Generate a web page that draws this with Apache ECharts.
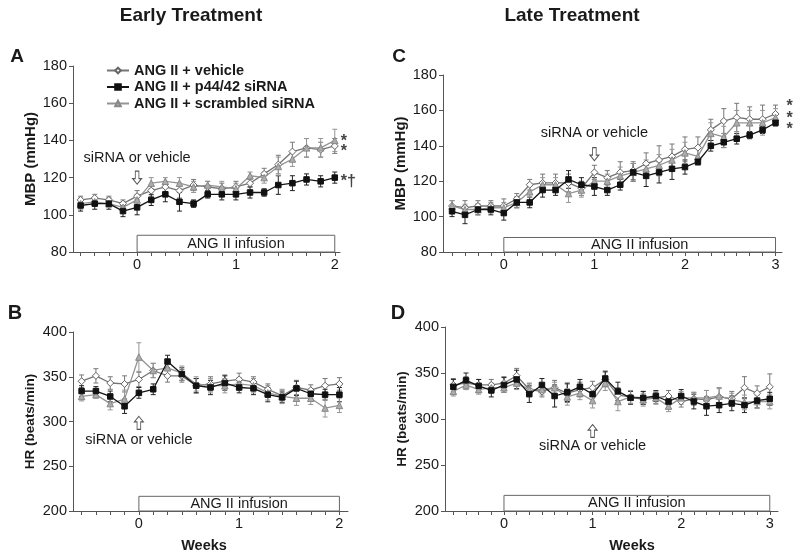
<!DOCTYPE html>
<html><head><meta charset="utf-8">
<script src="https://cdn.jsdelivr.net/npm/echarts@6/dist/echarts.min.js"></script>
<style>html,body{margin:0;padding:0;background:#fff}#c{width:800px;height:554px}</style>
</head><body><div id="c"></div>
<script>
// ---------- DATA ----------
const seriesNames = ['ANG II + vehicle', 'ANG II + p44/42 siRNA', 'ANG II + scrambled siRNA'];
const daysEarly = [-4,-3,-2,-1,0,1,2,3,4,5,6,7,8,9,10,11,12,13,14];
const daysLate  = [-4,-3,-2,-1,0,1,2,3,4,5,6,7,8,9,10,11,12,13,14,15,16,17,18,19,20,21];
const weekLabelsEarly = [0,1,2];
const weekLabelsLate  = [0,1,2,3];

// Panel A: MBP, early treatment
const mbpEarlyVehicle   = [108,109,108,106,110,113,115,113,116,115,114,115,117,122,127,134,136,135,137];
const mbpEarlyVehicleE  = [2,2,2,2,3,3,3,4,3,3,3,3,2,3,5,5,5,4,4];
const mbpEarlySirna     = [105,106,106,102,104,108,111,107,106,111,111,111,112,112,116,117,119,118,120];
const mbpEarlySirnaE    = [3,3,3,3,4,3,4,5,2,2,3,3,3,2,5,4,3,3,3];
const mbpEarlyScrambled = [106,107,106,104,108,117,118,117,115,116,115,114,121,120,126,130,136,136,140];
const mbpEarlyScrambledE= [3,2,2,3,3,3,2,3,3,2,3,3,2,3,5,4,5,5,6];

// Panel B: HR, early treatment
const hrEarlyVehicle    = [345,351,343,342,347,357,351,351,340,342,345,347,344,336,329,338,335,340,342];
const hrEarlyVehicleE   = [7,8,7,9,8,8,7,7,8,8,7,7,6,6,6,8,6,8,7];
const hrEarlySirna      = [334,334,328,317,332,336,367,353,340,338,343,338,337,330,327,337,331,330,330];
const hrEarlySirnaE     = [6,5,6,8,6,6,7,7,8,8,8,6,7,8,6,8,5,6,8];
const hrEarlyScrambled  = [328,330,320,325,372,357,360,354,342,340,340,342,340,332,328,326,326,315,318];
const hrEarlyScrambledE = [5,4,7,10,16,8,8,8,8,8,8,7,8,8,8,8,7,10,8];

// Panel C: MBP, late treatment
const mbpLateVehicle    = [106,105,106,106,106,110,118,119,119,119,116,125,122,125,126,130,132,134,138,139,149,154,156,155,155,158];
const mbpLateVehicleE   = [3,4,3,3,4,3,3,5,5,5,4,4,4,6,5,6,8,7,7,6,6,7,8,7,8,5];
const mbpLateSirna      = [103,101,104,104,102,108,108,115,115,121,118,117,115,118,125,123,125,127,128,131,140,142,144,146,149,153];
const mbpLateSirnaE     = [3,5,3,3,4,3,3,4,3,5,4,5,3,3,5,6,6,6,4,2,3,3,3,2,2,2];
const mbpLateScrambled  = [106,104,104,105,105,108,114,118,118,113,115,120,120,123,125,127,129,132,136,134,147,145,153,153,153,156];
const mbpLateScrambledE = [3,3,3,3,3,3,3,4,4,5,4,4,4,5,5,5,6,6,6,5,6,6,7,7,7,5];

// Panel D: HR, late treatment
const hrLateVehicle     = [337,339,337,337,339,347,332,330,334,328,332,334,343,326,324,323,323,325,319,322,321,324,322,334,328,335];
const hrLateVehicleE    = [7,7,6,6,7,8,7,6,8,10,8,7,8,8,7,7,6,6,6,7,10,10,8,12,8,14];
const hrLateSirna       = [335,342,336,331,337,343,327,337,325,329,335,327,344,330,323,323,325,319,325,319,314,315,317,315,320,322];
const hrLateSirnaE      = [8,8,7,7,8,10,9,7,12,10,8,8,8,10,7,7,6,7,7,8,10,8,8,8,8,7];
const hrLateScrambled   = [330,337,332,334,334,339,332,332,334,324,328,320,339,319,324,321,323,314,323,323,323,325,321,318,319,319];
const hrLateScrambledE  = [5,5,5,5,5,7,6,6,6,9,7,8,8,10,7,7,7,6,7,6,8,8,7,8,7,8];

// Annotations (data coords)
const infusionEarly = [0, 14];
const infusionLate  = [0, 21];
const siRNADayEarly = 0;
const siRNADayLate  = 7;

// ---------- STYLE ----------
const FONT = '"Liberation Sans", Arial, Helvetica, sans-serif';
const TXT = '#1a1a1a';
const AX = '#555';
const styles = [
  {sym:'diamond', size:7, line:'#747474', fill:'#fff', border:'#666', err:'#777'},
  {sym:'rect', size:5.5, line:'#151515', fill:'#111', border:'#111', err:'#222'},
  {sym:'triangle', size:6.5, line:'#949494', fill:'#acacac', border:'#888', err:'#969696'}
];

const panels = [
  {grid:{left:73,top:66,width:267,height:186}, xr:[-4.54,14.37], yr:[80,180,20], days:daysEarly, weeks:weekLabelsEarly,
   vals:[mbpEarlyVehicle,mbpEarlySirna,mbpEarlyScrambled], errs:[mbpEarlyVehicleE,mbpEarlySirnaE,mbpEarlyScrambledE],
   yname:'MBP (mmHg)', ynameSize:15, ynameGap:35, inf:infusionEarly, infTop:89, arrowDay:siRNADayEarly, arrowY:120, arrowDown:true, textY:130.4,
   ends:[{t:'*',dy:6},{t:'*\u2020',dy:4},{t:'*',dy:1}], endDist:6},
  {grid:{left:73,top:332,width:275,height:179}, xr:[-4.6,14.6], yr:[200,400,50], days:daysEarly, weeks:weekLabelsEarly,
   vals:[hrEarlyVehicle,hrEarlySirna,hrEarlyScrambled], errs:[hrEarlyVehicleE,hrEarlySirnaE,hrEarlyScrambledE],
   yname:'HR (beats/min)', ynameSize:13.5, ynameGap:36, inf:infusionEarly, infTop:216.4, arrowDay:siRNADayEarly, arrowY:298.5, arrowDown:false, textY:279},
  {grid:{left:443,top:75,width:339,height:177}, xr:[-4.7,21.5], yr:[80,180,20], days:daysLate, weeks:weekLabelsLate,
   vals:[mbpLateVehicle,mbpLateSirna,mbpLateScrambled], errs:[mbpLateVehicleE,mbpLateSirnaE,mbpLateScrambledE],
   yname:'MBP (mmHg)', ynameSize:15, ynameGap:35, inf:infusionLate, infTop:88.2, arrowDay:siRNADayLate, arrowY:135.3, arrowDown:true, textY:147,
   ends:[{t:'*',dy:-7},{t:'*',dy:7},{t:'*',dy:1}], endDist:11},
  {grid:{left:445,top:327,width:333,height:184}, xr:[-4.66,21.65], yr:[200,400,50], days:daysLate, weeks:weekLabelsLate,
   vals:[hrLateVehicle,hrLateSirna,hrLateScrambled], errs:[hrLateVehicleE,hrLateSirnaE,hrLateScrambledE],
   yname:'HR (beats/min)', ynameSize:13.5, ynameGap:36, inf:infusionLate, infTop:217, arrowDay:siRNADayLate, arrowY:287, arrowDown:false, textY:270.5}
];

const ARROW_DOWN = 'path://M3,0 L7,0 L7,8 L10,8 L5,14 L0,8 L3,8 Z';
const ARROW_UP   = 'path://M5,0 L10,6 L7,6 L7,14 L3,14 L3,6 L0,6 Z';

const grids=[], xAxes=[], yAxes=[], series=[];
panels.forEach((p,i)=>{
  grids.push(Object.assign({containLabel:false}, p.grid));
  const tickDays=[]; for(let d=Math.ceil(p.xr[0]); d<=Math.floor(p.xr[1]); d++) tickDays.push(d);
  xAxes.push({type:'value', gridIndex:i, min:p.xr[0], max:p.xr[1],
    axisLine:{show:true, onZero:false, lineStyle:{color:AX, width:1}},
    axisTick:{show:true, length:4, customValues:tickDays, lineStyle:{color:AX}},
    axisLabel:{customValues:p.weeks.map(w=>w*7), formatter:v=>String(Math.round(v/7)), fontSize:14.5, fontFamily:FONT, color:TXT, margin:5},
    splitLine:{show:false}});
  yAxes.push({type:'value', gridIndex:i, min:p.yr[0], max:p.yr[1], interval:p.yr[2],
    axisLine:{show:true, onZero:false, lineStyle:{color:AX, width:1}},
    axisTick:{show:true, length:4, lineStyle:{color:AX}},
    axisLabel:{fontSize:14.5, fontFamily:FONT, color:TXT, margin:6},
    splitLine:{show:false},
    name:p.yname, nameLocation:'middle', nameGap:p.ynameGap,
    nameTextStyle:{fontSize:p.ynameSize, fontWeight:'bold', fontFamily:FONT, color:TXT}});

  // error bars
  p.vals.forEach((vals,k)=>{
    const st=styles[k];
    series.push({type:'custom', xAxisIndex:i, yAxisIndex:i, silent:true, z:1,
      data:p.days.map((d,j)=>[d, vals[j], p.errs[k][j]]),
      encode:{x:0,y:1},
      renderItem:(params, api)=>{
        const x=api.value(0), m=api.value(1), e=api.value(2);
        const t=api.coord([x,m+e]), b=api.coord([x,m-e]);
        const w=2.5, s={stroke:st.err, lineWidth:1};
        return {type:'group', children:[
          {type:'line', shape:{x1:t[0],y1:t[1],x2:b[0],y2:b[1]}, style:s},
          {type:'line', shape:{x1:t[0]-w,y1:t[1],x2:t[0]+w,y2:t[1]}, style:s},
          {type:'line', shape:{x1:b[0]-w,y1:b[1],x2:b[0]+w,y2:b[1]}, style:s}
        ]};
      }});
  });

  // lines
  [1,0,2].forEach(k=>{
    const st=styles[k];
    const s={type:'line', name:seriesNames[k], xAxisIndex:i, yAxisIndex:i,
      data:p.days.map((d,j)=>[d, p.vals[k][j]]),
      symbol:st.sym, symbolSize:st.size, showAllSymbol:true, animation:false,
      lineStyle:{color:st.line, width:1.3},
      itemStyle:{color:st.fill, borderColor:st.border, borderWidth:1},
      emphasis:{disabled:true}, z: k===1?4:3};
    if(p.ends){
      s.endLabel={show:true, formatter:p.ends[k].t, color:'#444', fontSize:16, fontWeight:'bold', fontFamily:FONT,
        distance:p.endDist, offset:[0,p.ends[k].dy]};
    }
    series.push(s);
  });

  // annotation series (infusion box, arrow, text)
  series.push({type:'line', xAxisIndex:i, yAxisIndex:i, data:[], silent:true, z:2,
    markArea:{silent:true, itemStyle:{color:'#fff', borderColor:'#666', borderWidth:1},
      label:{show:true, position:'inside', formatter:'ANG II infusion', fontSize:14.5, fontFamily:FONT, color:TXT},
      data:[[{xAxis:p.inf[0], yAxis:p.yr[0]},{xAxis:p.inf[1], yAxis:p.infTop}]]},
    markPoint:{silent:true, animation:false, data:[
      {coord:[p.arrowDay, p.arrowY], symbol:p.arrowDown?ARROW_DOWN:ARROW_UP, symbolSize:[9,13], symbolKeepAspect:false,
       itemStyle:{color:'#fff', borderColor:'#555', borderWidth:1}, label:{show:false}},
      {coord:[p.arrowDay, p.textY], symbol:'rect', symbolSize:1, itemStyle:{color:'rgba(0,0,0,0)'},
       label:{show:true, position:'inside', formatter:'siRNA or vehicle', fontSize:14.5, fontFamily:FONT, color:TXT}}
    ]}});
});

const T=(text,x,y,size,bold)=>({type:'text', x, y, silent:true,
  style:{text, align:'center', verticalAlign:'middle', fontSize:size, fontWeight:bold?'bold':'normal', fontFamily:FONT, fill:TXT}});

const option={
  backgroundColor:'#fff',
  animation:false,
  grid:grids, xAxis:xAxes, yAxis:yAxes, series,
  legend:{show:true, orient:'vertical', left:101, top:58, itemWidth:22, itemHeight:7, itemGap:1.5,
    data:seriesNames, selectedMode:false,
    textStyle:{fontSize:14.5, fontWeight:'bold', fontFamily:FONT, color:TXT, lineHeight:14}},
  graphic:[
    T('Early Treatment',191,16,19,true),
    T('Late Treatment',572,16,19,true),
    T('A',17,57,19,true),
    T('C',399,57,19,true),
    T('B',15,313,20,true),
    T('D',398,313,20,true),
    T('Weeks',204,546,14.5,true),
    T('Weeks',632,546,14.5,true)
  ]
};
const chart=echarts.init(document.getElementById('c'));
chart.setOption(option);
</script></body></html>
